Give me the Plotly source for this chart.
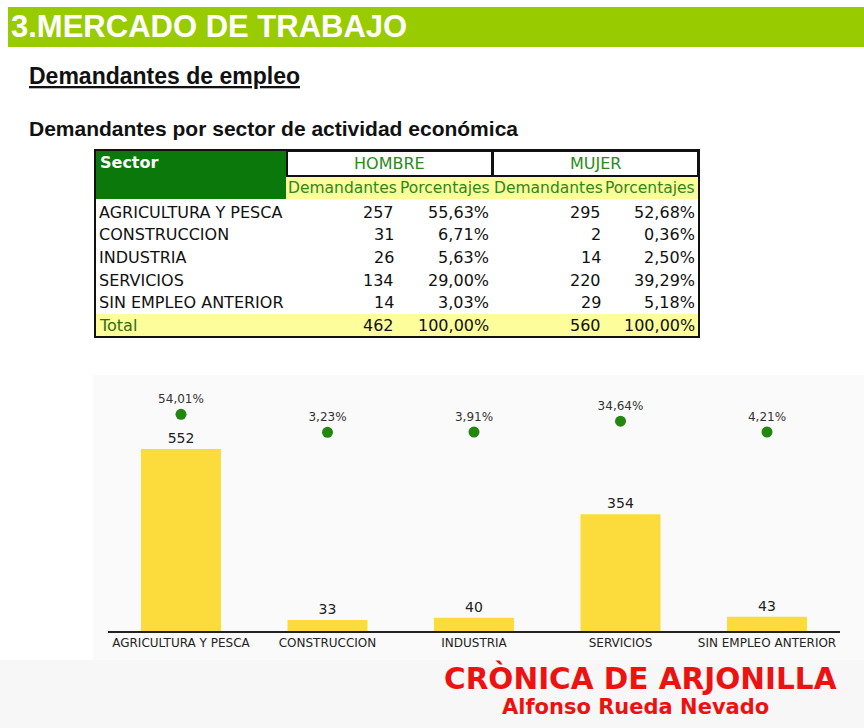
import plotly.graph_objects as go

# ---------------- data ----------------
sectores = ["AGRICULTURA Y PESCA", "CONSTRUCCION", "INDUSTRIA", "SERVICIOS", "SIN EMPLEO ANTERIOR"]
hombre_dem = [257, 31, 26, 134, 14]
hombre_pct = [55.63, 6.71, 5.63, 29.00, 3.03]
mujer_dem = [295, 2, 14, 220, 29]
mujer_pct = [52.68, 0.36, 2.50, 39.29, 5.18]
hombre_total = 462
mujer_total = 560
total_dem = [552, 33, 40, 354, 43]
total_pct = [54.01, 3.23, 3.91, 34.64, 4.21]

W, H = 864, 728


def fx(x):
    return x / W


def fy(y):
    return 1 - y / H


def pct(v):
    return f"{v:.2f}".replace(".", ",") + "%"


TFONT = "DejaVu Sans"
GREEN_TXT = "#2a8a1a"

shapes = []
ann = []


def rect(x0, y0, x1, y1, fill=None, line=None, lw=0, layer="below"):
    shapes.append(dict(type="rect", xref="paper", yref="paper",
                       x0=fx(x0), x1=fx(x1), y0=fy(y1), y1=fy(y0),
                       fillcolor=fill if fill else "rgba(0,0,0,0)",
                       line=dict(color=line if line else "rgba(0,0,0,0)", width=lw),
                       layer=layer))


def text(x, y, s, size, color="#222", xanchor="left", family=TFONT, weight="normal", **kw):
    ann.append(dict(xref="paper", yref="paper", x=fx(x), y=fy(y), text=s,
                    showarrow=False, xanchor=xanchor, yanchor="middle",
                    font=dict(family=family, size=size, color=color, weight=weight, **kw)))


# backgrounds
rect(93, 375, 864, 660, fill="#fafafa")
rect(0, 660, 864, 728, fill="#f7f7f7")

# header bar
rect(8, 7, 864, 47, fill="#99cc00")
text(9, 27, "3.MERCADO DE TRABAJO", 31, color="white", family="Liberation Sans", weight="bold")
text(27, 76, "Demandantes de empleo", 23, color="#111", family="Liberation Sans", weight="bold",
     lineposition="under")
text(27, 128, "Demandantes por sector de actividad económica", 21, color="#111",
     family="Liberation Sans", weight="bold")

# ---------------- table ----------------
TS = 16
rect(96, 151, 286, 199, fill="#0a780a")
rect(286, 176, 699, 199, fill="#fdfd9c")
rect(96, 314, 699, 337, fill="#fdfd9c")
rect(287, 151, 492, 176, fill="white", line="#111", lw=2)
rect(493, 151, 698, 176, fill="white", line="#111", lw=2)
rect(95, 150, 699, 337, line="#111", lw=2, layer="above")

text(98, 162, "Sector", TS, color="white", weight="bold")
text(389, 164, "HOMBRE", TS, color=GREEN_TXT, xanchor="center")
text(595, 164, "MUJER", TS, color=GREEN_TXT, xanchor="center")
for xc, s in [(342, "Demandantes"), (445, "Porcentajes"), (548, "Demandantes"), (650, "Porcentajes")]:
    text(xc, 188, s, 15.5, color=GREEN_TXT, xanchor="center")

row_y = [212, 235, 257, 280, 302]
for i, s in enumerate(sectores):
    y = row_y[i]
    text(97, y, s, TS, color="#111")
    text(396, y, str(hombre_dem[i]), TS, color="#111", xanchor="right")
    text(491, y, pct(hombre_pct[i]), TS, color="#111", xanchor="right")
    text(603, y, str(mujer_dem[i]), TS, color="#111", xanchor="right")
    text(697, y, pct(mujer_pct[i]), TS, color="#111", xanchor="right")

text(97, 325, "Total", TS, color="#2f6f10")
text(396, 325, str(hombre_total), TS, color="#111", xanchor="right")
text(491, 325, pct(100), TS, color="#111", xanchor="right")
text(603, 325, str(mujer_total), TS, color="#111", xanchor="right")
text(697, 325, pct(100), TS, color="#111", xanchor="right")

# watermark
text(640, 678, "CRÒNICA DE ARJONILLA", 29.5, color="#ee1111", xanchor="center",
     family="DejaVu Sans", weight="bold")
text(635, 707, "Alfonso Rueda Nevado", 21, color="#ee1111", xanchor="center",
     family="DejaVu Sans", weight="bold")

# ---------------- chart ----------------
fig = go.Figure()
fig.add_trace(go.Bar(
    x=sectores, y=total_dem, marker=dict(color="#fcdc3c", line=dict(width=0)),
    text=[str(v) for v in total_dem], textposition="outside",
    textfont=dict(family=TFONT, size=14, color="#222"), cliponaxis=False,
))
fig.add_trace(go.Scatter(
    x=sectores, y=total_pct, yaxis="y2", mode="markers+text",
    marker=dict(color="#23860f", size=11),
    text=[pct(v) for v in total_pct], textposition="top center",
    textfont=dict(family=TFONT, size=12, color="#333"), cliponaxis=False,
))

y_bot, y_top = 631, 400
dom = [fy(y_bot), fy(y_top)]
bar_scale = (631 - 449) / 552.0
y2_scale = 0.3545
y2_zero = 433.5

fig.update_layout(
    width=W, height=H, margin=dict(l=0, r=0, t=0, b=0),
    paper_bgcolor="white", plot_bgcolor="rgba(0,0,0,0)",
    showlegend=False, bargap=0.454,
    xaxis=dict(domain=[fx(107.75), fx(840.25)], range=[-0.5, 4.5], showline=True,
               linecolor="#222", linewidth=1.5, showgrid=False, ticks="",
               tickfont=dict(family=TFONT, size=12, color="#222")),
    yaxis=dict(domain=dom, range=[0, (y_bot - y_top) / bar_scale], visible=False),
    yaxis2=dict(overlaying="y", range=[-(y_bot - y2_zero) / y2_scale, (y2_zero - y_top) / y2_scale],
                visible=False),
    shapes=shapes, annotations=ann,
)

fig.write_html("out.html", config={"displayModeBar": False},
               post_script="document.body.style.margin='0';")
